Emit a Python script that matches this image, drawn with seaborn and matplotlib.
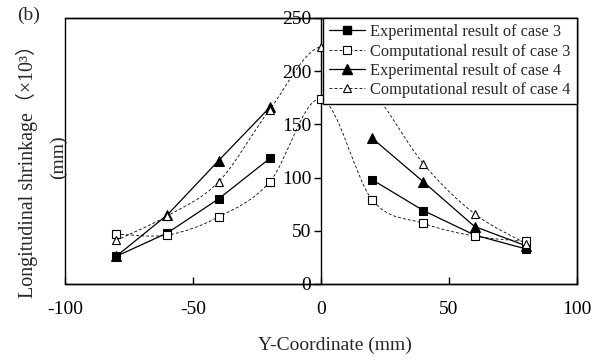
import numpy as np
import pandas as pd
import seaborn as sns
import matplotlib
matplotlib.use("Agg")
import matplotlib.pyplot as plt
from matplotlib.path import Path
from matplotlib.patches import PathPatch, Rectangle
from matplotlib.lines import Line2D

# ---- data ----
x_exp = [-80, -60, -40, -20, 20, 40, 60, 80]
exp_case3 = [26, 48, 80, 118, 98, 69, 46, 33]
exp_case4 = [26, 65, 116, 166, 137, 96, 54, 36]

x_comp = [-80, -60, -40, -20, 0, 20, 40, 60, 80]
comp_case3 = [47, 46, 63, 96, 174, 79, 57, 45, 40]
comp_case4 = [41, 64, 96, 164, 223, 182, 113, 66, 38]

labels = ["Experimental result of case 3", "Computational result of case 3",
          "Experimental result of case 4", "Computational result of case 4"]
x_ticks = [-100, -50, 0, 50, 100]
y_ticks = [0, 50, 100, 150, 200, 250]

sns.set_theme(style="white")
plt.rcParams['font.family'] = ['Liberation Serif', 'Noto Sans CJK SC', 'DejaVu Sans']
plt.rcParams['axes.unicode_minus'] = False

fig = plt.figure(figsize=(6.1, 3.63), dpi=100)
ax = fig.add_axes([65/610, 1-284/363, (577-65)/610, (284-18)/363])
ax.set_facecolor('white')

DASH = (0, (3.5, 2.5))


def smooth_path(xs, ys):
    pts = np.column_stack([xs, ys]).astype(float)
    n = len(pts)
    verts = [pts[0]]
    codes = [Path.MOVETO]
    for i in range(n - 1):
        p0 = pts[i - 1] if i > 0 else pts[i]
        p1 = pts[i]
        p2 = pts[i + 1]
        p3 = pts[i + 2] if i + 2 < n else pts[i + 1]
        c1 = p1 + (p2 - p0) / 6.0
        c2 = p2 - (p3 - p1) / 6.0
        verts += [c1, c2, p2]
        codes += [Path.CURVE4] * 3
    return Path(verts, codes)


# experimental: straight solid lines, separate left / right branches
side = ['L' if v < 0 else 'R' for v in x_exp]
df3 = pd.DataFrame({'x': x_exp, 'y': exp_case3, 'side': side})
df4 = pd.DataFrame({'x': x_exp, 'y': exp_case4, 'side': side})
for s in ('L', 'R'):
    sns.lineplot(data=df4[df4.side == s], x='x', y='y', ax=ax, color='black', lw=0.9,
                 marker='^', markersize=6.5, markerfacecolor='black',
                 markeredgecolor='black', zorder=3)
    sns.lineplot(data=df3[df3.side == s], x='x', y='y', ax=ax, color='black', lw=0.9,
                 marker='s', markersize=6, markerfacecolor='black',
                 markeredgecolor='black', zorder=4)

# computational: smoothed dashed lines
for ys in (comp_case3, comp_case4):
    ax.add_patch(PathPatch(smooth_path(x_comp, ys), fill=False, edgecolor='black',
                           lw=0.6, linestyle=DASH, zorder=2))
ax.plot(x_comp, comp_case3, linestyle='none', marker='s', markersize=5.5,
        markerfacecolor='white', markeredgecolor='black', markeredgewidth=0.8, zorder=5)
ax.plot(x_comp, comp_case4, linestyle='none', marker='^', markersize=6,
        markerfacecolor='white', markeredgecolor='black', markeredgewidth=0.8, zorder=5)

ax.set_xlim(-100, 100)
ax.set_ylim(0, 250)
ax.set_xticks(x_ticks)
ax.set_xticklabels([str(v) for v in x_ticks])
ax.set_yticks(y_ticks)
ax.set_yticklabels([str(v) for v in y_ticks])
ax.set_xlabel('')
ax.set_ylabel('')

for s in ('top', 'right', 'bottom'):
    ax.spines[s].set_visible(True)
    ax.spines[s].set_color('black')
    ax.spines[s].set_linewidth(1.0)
ax.spines['left'].set_position(('data', 0))
ax.spines['left'].set_color('black')
ax.spines['left'].set_linewidth(1.0)
ax.add_patch(Rectangle((0, 0), 1, 1, transform=ax.transAxes, fill=False,
                       edgecolor='black', lw=1.0, zorder=1, clip_on=False))

ax.tick_params(axis='x', direction='in', length=5, width=1, colors='black',
               labelsize=14, pad=12, bottom=True)
ax.tick_params(axis='y', direction='out', length=5, width=1, colors='black',
               labelsize=14, pad=2, left=True)

handles = [
    Line2D([], [], color='black', lw=0.9, marker='s', markersize=6, markerfacecolor='black'),
    Line2D([], [], color='black', lw=0.6, linestyle=DASH, marker='s', markersize=5.5,
           markerfacecolor='white', markeredgewidth=0.8),
    Line2D([], [], color='black', lw=0.9, marker='^', markersize=6.5, markerfacecolor='black'),
    Line2D([], [], color='black', lw=0.6, linestyle=DASH, marker='^', markersize=6,
           markerfacecolor='white', markeredgewidth=0.8),
]
leg = ax.legend(handles, labels, loc='upper right', bbox_to_anchor=(1, 1),
                borderaxespad=0, fontsize=11.8, frameon=True, fancybox=False,
                framealpha=1, edgecolor='black', handlelength=2.2,
                handletextpad=0.3, labelspacing=0.2, borderpad=0.38)
leg.get_frame().set_linewidth(1.0)
leg.set_zorder(10)

fig.text(335/610, 1-345/363, 'Y-Coordinate (mm)', ha='center', va='center', fontsize=14)
fig.text(27/610, 1-166/363, 'Longitudinal shrinkage（×10³）', rotation=90,
         ha='center', va='center', fontsize=14.4)
fig.text(58/610, 1-157/363, '(mm)', rotation=90, ha='center', va='center', fontsize=14)
fig.text(29/610, 1-15/363, '(b)', ha='center', va='center', fontsize=14)

fig.savefig('out.png', dpi=100, facecolor='white')
